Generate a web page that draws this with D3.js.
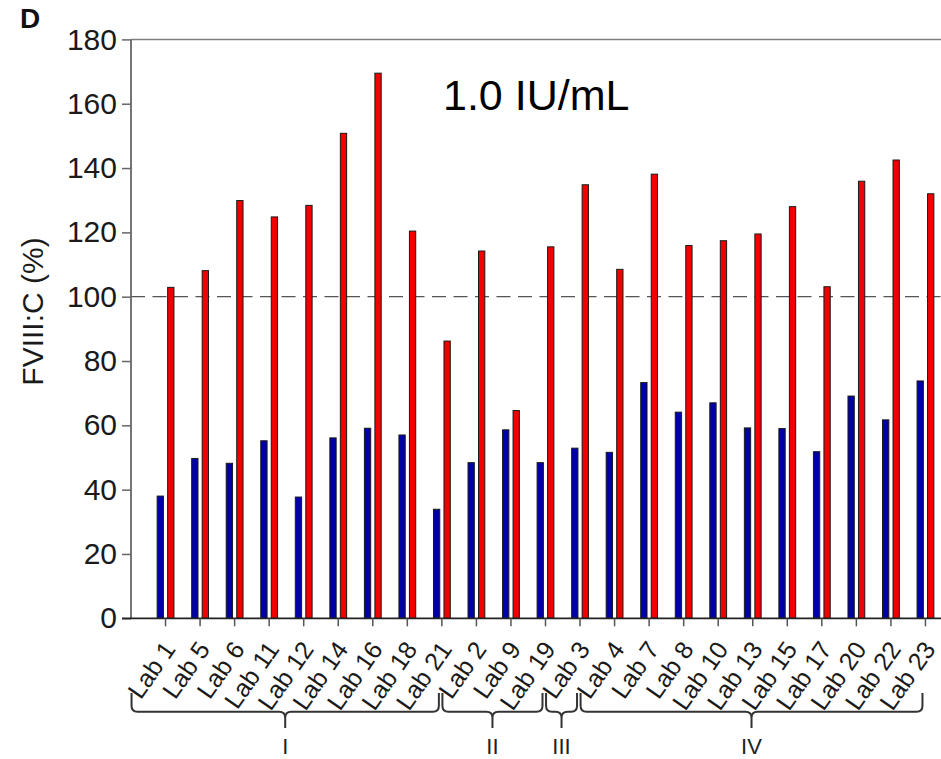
<!DOCTYPE html>
<html>
<head>
<meta charset="utf-8">
<script src="https://cdn.jsdelivr.net/npm/d3@7"></script>
<style>
  html, body { margin: 0; padding: 0; background: #fff; }
  svg { display: block; }
  text { font-family: "Liberation Sans", Arial, Helvetica, sans-serif; }
</style>
</head>
<body>
<svg id="chart" width="941" height="759"></svg>
<script>
// Laboratories in plotting order (grouped I, II, III, IV)
const labs = ["Lab 1", "Lab 5", "Lab 6", "Lab 11", "Lab 12", "Lab 14", "Lab 16", "Lab 18", "Lab 21",
              "Lab 2", "Lab 9", "Lab 19",
              "Lab 3",
              "Lab 4", "Lab 7", "Lab 8", "Lab 10", "Lab 13", "Lab 15", "Lab 17", "Lab 20", "Lab 22", "Lab 23"];

// FVIII:C (%) measured per laboratory, blue series
const blueValues = [38.0, 49.7, 48.2, 55.2, 37.7, 56.1, 59.1, 57.0, 33.9,
                    48.4, 58.6, 48.4,
                    52.9,
                    51.6, 73.3, 64.1, 67.0, 59.2, 59.0, 51.8, 69.1, 61.7, 73.8];

// FVIII:C (%) measured per laboratory, red series
const redValues = [102.9, 108.1, 129.9, 124.8, 128.4, 150.8, 169.5, 120.4, 86.2,
                   114.2, 64.6, 115.5,
                   134.8,
                   108.5, 138.1, 115.9, 117.4, 119.5, 128.0, 103.1, 135.9, 142.5, 132.0];

// Group brackets under the axis
const groupNames = ["I", "II", "III", "IV"];
const groupFirst = ["Lab 1", "Lab 2", "Lab 3", "Lab 4"];
const groupLast  = ["Lab 21", "Lab 19", "Lab 3", "Lab 23"];

const yTicks = [0, 20, 40, 60, 80, 100, 120, 140, 160, 180];
const referenceLevel = 100;
const titleText = "1.0 IU/mL";
const panelLetter = "D";
const yTitle = "FVIII:C (%)";

const svg = d3.select("#chart");

const x0 = 131, x1 = 960, yTop = 39.4, yBottom = 618.3;

const x = d3.scaleBand().domain(labs).range([x0, x1]).paddingInner(0).paddingOuter(0.5);
const sub = d3.scaleBand().domain(["blue", "red"]).range([-8.4, 8.4]).paddingInner(0.4);
const y = d3.scaleLinear().domain([0, 180]).range([yBottom, yTop]);
const cx = d => x(d) + x.bandwidth() / 2;

// Top frame line
svg.append("line")
  .attr("x1", x0).attr("x2", 941).attr("y1", y(180)).attr("y2", y(180))
  .attr("stroke", "#808080").attr("stroke-width", 1.5);

// Reference line at 100 %
svg.append("line")
  .attr("x1", x0).attr("x2", 941)
  .attr("y1", y(referenceLevel)).attr("y2", y(referenceLevel))
  .attr("stroke", "#555").attr("stroke-width", 1.3)
  .attr("stroke-dasharray", "14,7.5");

// Bars
const rows = labs.map((lab, i) => ({ lab, blue: blueValues[i], red: redValues[i] }));
const g = svg.append("g");
rows.forEach(r => {
  ["blue", "red"].forEach(k => {
    g.append("rect")
      .attr("x", cx(r.lab) + sub(k))
      .attr("width", sub.bandwidth())
      .attr("y", y(r[k]))
      .attr("height", y(0) - y(r[k]))
      .attr("fill", k === "blue" ? "#0000a8" : "#f20000")
      .attr("stroke", "#1a1a1a")
      .attr("stroke-width", 1);
  });
});

// Y axis
const yAxis = d3.axisLeft(y).tickValues(yTicks).tickSize(9).tickPadding(5);
const gy = svg.append("g").attr("transform", `translate(${x0},0)`).call(yAxis);
gy.select(".domain").attr("stroke", "#666").attr("stroke-width", 1.8).attr("d", `M0,${yTop}V${yBottom}`);
gy.selectAll(".tick line").attr("stroke", "#666").attr("stroke-width", 1.5);
gy.selectAll(".tick text").attr("font-size", 30).attr("fill", "#1a1a1a")
  .attr("font-family", "'Liberation Sans', Arial, sans-serif");

// X axis
const xAxis = d3.axisBottom(x).tickSize(8).tickFormat("");
const gx = svg.append("g").attr("transform", `translate(0,${yBottom})`).call(xAxis);
gx.select(".domain").attr("stroke", "#222").attr("stroke-width", 1.8).attr("d", `M${x0 - 9},0H941`);
gx.selectAll(".tick line").attr("stroke", "#555").attr("stroke-width", 1.5);

// Rotated lab labels
svg.append("g").selectAll("text").data(labs).join("text")
  .attr("transform", d => `translate(${cx(d) + 11},${yBottom + 31}) rotate(-55)`)
  .attr("text-anchor", "end")
  .attr("font-size", 25)
  .attr("fill", "#1a1a1a")
  .text(d => d);

// Group braces and numerals
const braceTop = 693, braceMid = 711.7, braceStem = 728;
groupNames.forEach((name, i) => {
  const a = cx(groupFirst[i]) - 34;
  const b = cx(groupLast[i]) - 3;
  const m = (a + b) / 2;
  const r = 6;
  const path = `M${a},${braceTop}V${braceMid - r}Q${a},${braceMid} ${a + r},${braceMid}` +
               `H${m - r}Q${m},${braceMid} ${m},${braceMid + r}V${braceStem}` +
               `M${m},${braceMid + r}Q${m},${braceMid} ${m + r},${braceMid}` +
               `H${b - r}Q${b},${braceMid} ${b},${braceMid - r}V${braceTop}`;
  svg.append("path").attr("d", path).attr("fill", "none")
    .attr("stroke", "#333").attr("stroke-width", 2);
  svg.append("text").attr("x", m).attr("y", 754)
    .attr("text-anchor", "middle").attr("font-size", 22).attr("fill", "#222")
    .text(name);
});

// Y axis title
svg.append("text")
  .attr("transform", `translate(43,311.5) rotate(-90)`)
  .attr("text-anchor", "middle")
  .attr("font-size", 30).attr("fill", "#1a1a1a")
  .text(yTitle);

// Panel letter
svg.append("text").attr("x", 20).attr("y", 28)
  .attr("font-size", 28).attr("font-weight", "bold").attr("fill", "#111")
  .text(panelLetter);

// Concentration title
svg.append("text").attr("x", 443).attr("y", 110)
  .attr("font-family", "'Open Sans', sans-serif")
  .attr("font-size", 43).attr("fill", "#000")
  .text(titleText);
</script>
</body>
</html>
